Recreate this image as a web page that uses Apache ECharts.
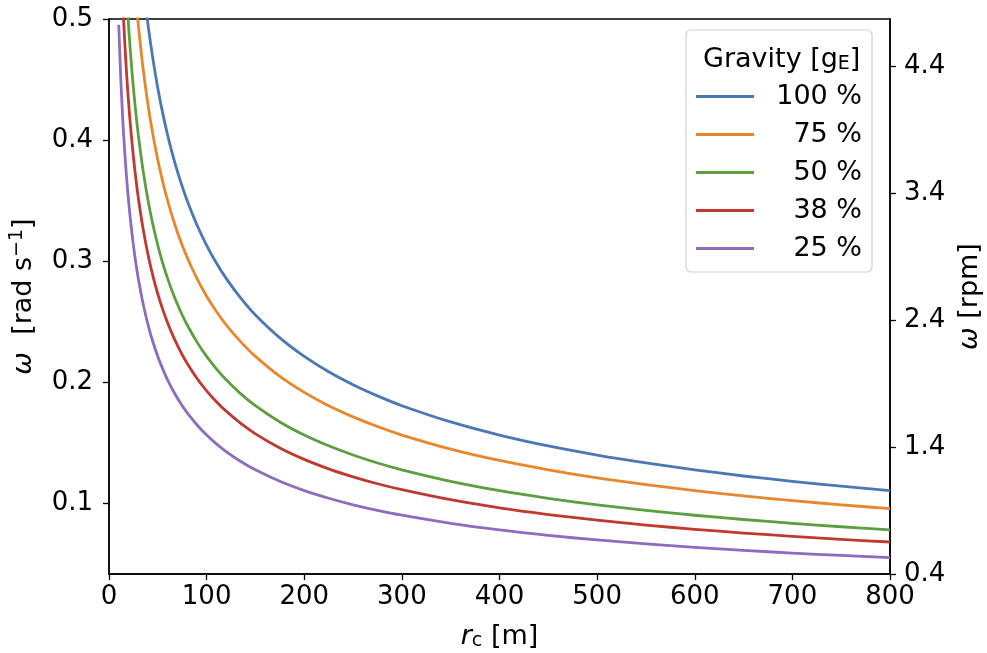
<!DOCTYPE html>
<html>
<head>
<meta charset="utf-8">
<script src="https://cdn.jsdelivr.net/npm/echarts@6/dist/echarts.min.js"></script>
<style>
html, body { margin: 0; padding: 0; background: #fff; }
#main { width: 987px; height: 653px; }
</style>
</head>
<body>
<div id="main"></div>
<script>
// radius of the habitat [m]
var radius = [10, 12, 14, 16, 18, 20, 22, 25, 28, 30, 35, 40, 45, 50, 55, 60, 65, 70, 75, 80,
	90, 100, 110, 120, 135, 150, 175, 200, 225, 250, 275, 300, 350, 400, 450, 500, 550, 600, 650, 700, 750, 800];
// angular velocity [rad/s]
var g100 = [0.9905, 0.9042, 0.8371, 0.7830, 0.7382, 0.7004, 0.6678, 0.6264, 0.5919, 0.5718, 0.5294, 0.4952, 0.4669, 0.4429, 0.4223, 0.4044, 0.3885, 0.3744, 0.3617, 0.3502,
	0.3302, 0.3132, 0.2986, 0.2859, 0.2696, 0.2557, 0.2368, 0.2215, 0.2088, 0.1981, 0.1889, 0.1808, 0.1674, 0.1566, 0.1476, 0.1401, 0.1336, 0.1279, 0.1228, 0.1184, 0.1144, 0.1107];
var g75 = [0.8578, 0.7830, 0.7249, 0.6781, 0.6393, 0.6065, 0.5783, 0.5425, 0.5126, 0.4952, 0.4585, 0.4289, 0.4044, 0.3836, 0.3658, 0.3502, 0.3364, 0.3242, 0.3132, 0.3033,
	0.2859, 0.2712, 0.2586, 0.2476, 0.2335, 0.2215, 0.2050, 0.1918, 0.1808, 0.1716, 0.1636, 0.1566, 0.1450, 0.1356, 0.1279, 0.1213, 0.1157, 0.1107, 0.1064, 0.1025, 0.0990, 0.0959];
var g50 = [0.7004, 0.6393, 0.5919, 0.5537, 0.5220, 0.4952, 0.4722, 0.4429, 0.4185, 0.4044, 0.3744, 0.3502, 0.3301, 0.3132, 0.2986, 0.2859, 0.2747, 0.2647, 0.2557, 0.2476,
	0.2335, 0.2215, 0.2112, 0.2022, 0.1906, 0.1808, 0.1674, 0.1566, 0.1477, 0.1401, 0.1335, 0.1279, 0.1184, 0.1107, 0.1044, 0.0990, 0.0944, 0.0904, 0.0869, 0.0837, 0.0809, 0.0783];
var g38 = [0.6106, 0.5574, 0.5160, 0.4827, 0.4551, 0.4317, 0.4116, 0.3862, 0.3649, 0.3525, 0.3264, 0.3053, 0.2878, 0.2730, 0.2603, 0.2493, 0.2395, 0.2308, 0.2229, 0.2159,
	0.2035, 0.1931, 0.1841, 0.1763, 0.1662, 0.1576, 0.1459, 0.1365, 0.1287, 0.1221, 0.1164, 0.1115, 0.1032, 0.0965, 0.0910, 0.0863, 0.0823, 0.0788, 0.0757, 0.0730, 0.0705, 0.0683];
var g25 = [0.4952, 0.4521, 0.4185, 0.3915, 0.3691, 0.3502, 0.3339, 0.3132, 0.2959, 0.2859, 0.2647, 0.2476, 0.2334, 0.2215, 0.2112, 0.2022, 0.1942, 0.1872, 0.1808, 0.1751,
	0.1651, 0.1566, 0.1493, 0.1430, 0.1348, 0.1279, 0.1184, 0.1107, 0.1044, 0.0990, 0.0944, 0.0904, 0.0837, 0.0783, 0.0738, 0.0700, 0.0668, 0.0639, 0.0614, 0.0592, 0.0572, 0.0554];

var seriesNames = ['100 %', '75 %', '50 %', '38 %', '25 %'];
var seriesData = [g100, g75, g50, g38, g25];
var colors = ['#4a78b5', '#e8862b', '#5b9f3e', '#c0392f', '#8d6bbf'];

var leftTicks = [0.1, 0.2, 0.3, 0.4, 0.5];
var rightTicks = [0.4, 1.4, 2.4, 3.4, 4.4];
var xMin = 0, xMax = 800;
var yMin = 0.0419, yMax = 0.5;       // rad/s
var rpmMin = 0.4, rpmMax = 4.7746;   // same range in rpm

var font = 'DejaVu Sans';
var tickSize = 26;
var textSize = 27;

function pairs(ys) {
	var out = [];
	for (var i = 0; i < radius.length; i++) {
		out.push([radius[i], ys[i]]);
	}
	return out;
}

var myChart = echarts.init(document.getElementById('main'));

var series = [];
for (var i = 0; i < seriesNames.length; i++) {
	series.push({
		name: seriesNames[i],
		type: 'line',
		yAxisIndex: 0,
		data: pairs(seriesData[i]),
		smooth: 0.3,
		symbol: 'none',
		clip: true,
		lineStyle: { width: 2.8, color: colors[i], join: 'round' },
		itemStyle: { color: colors[i] }
	});
}

var option = {
	animation: false,
	color: colors,
	textStyle: { fontFamily: font },
	grid: {
		left: 109, right: 97, top: 19, bottom: 79,
		outerBoundsMode: 'none',
		show: true, borderColor: '#000', borderWidth: 1.5,
		containLabel: false
	},
	title: {
		text: 'Gravity [g{sub|E}]',
		left: 698, top: 40, z: 10,
		textStyle: {
			fontFamily: font, fontSize: textSize, fontWeight: 'normal', color: '#000',
			rich: {
				sub: { fontFamily: font, fontSize: 19, color: '#000', padding: [10, 0, 0, 0] }
			}
		}
	},
	legend: {
		orient: 'vertical',
		left: 686, top: 30,
		padding: [53, 10, 10, 10],
		itemGap: 11,
		itemWidth: 58,
		itemHeight: 3,
		icon: 'rect',
		backgroundColor: '#fff',
		borderColor: '#d0d0d0',
		borderWidth: 1.2,
		borderRadius: 5,
		data: seriesNames,
		formatter: function (name) {
			return '{t|' + name + '}';
		},
		textStyle: {
			fontFamily: font, fontSize: textSize, color: '#000',
			rich: {
				t: { fontFamily: font, fontSize: textSize, color: '#000', width: 103, align: 'right', lineHeight: 30 }
			}
		}
	},
	xAxis: {
		type: 'value',
		min: xMin, max: xMax, interval: 100,
		name: '{i|r}{sub|c} [m]',
		nameLocation: 'middle',
		nameGap: 48,
		nameTextStyle: {
			fontFamily: font, fontSize: textSize, color: '#000',
			rich: {
				i: { fontFamily: font, fontSize: textSize, fontStyle: 'italic', color: '#000' },
				sub: { fontFamily: font, fontSize: 19, color: '#000', padding: [10, 0, 0, 0] }
			}
		},
		splitLine: { show: false },
		axisLine: { lineStyle: { color: '#000', width: 1.5 } },
		axisTick: { length: 6, lineStyle: { color: '#000', width: 1.3 } },
		axisLabel: { fontFamily: font, fontSize: tickSize, color: '#000', margin: 10 }
	},
	yAxis: [{
		type: 'value',
		position: 'left',
		min: yMin, max: yMax,
		name: '{i|ω}  [rad s{sup|−1}]',
		nameLocation: 'middle',
		nameRotate: 90,
		nameGap: 70,
		nameTextStyle: {
			fontFamily: font, fontSize: textSize, color: '#000',
			rich: {
				i: { fontFamily: font, fontSize: textSize, fontStyle: 'italic', color: '#000' },
				sup: { fontFamily: font, fontSize: 19, color: '#000', padding: [0, 0, 12, 0] }
			}
		},
		splitLine: { show: false },
		axisLine: { show: true, lineStyle: { color: '#000', width: 1.5 } },
		axisTick: { show: true, length: 6, customValues: leftTicks, lineStyle: { color: '#000', width: 1.3 } },
		axisLabel: {
			fontFamily: font, fontSize: tickSize, color: '#000', margin: 16,
			customValues: leftTicks,
			formatter: function (v) { return v.toFixed(1); }
		}
	}, {
		type: 'value',
		position: 'right',
		min: rpmMin, max: rpmMax,
		name: '{i|ω} [rpm]',
		nameLocation: 'middle',
		nameRotate: 90,
		nameGap: 66,
		nameTextStyle: {
			fontFamily: font, fontSize: textSize, color: '#000',
			rich: {
				i: { fontFamily: font, fontSize: textSize, fontStyle: 'italic', color: '#000' }
			}
		},
		splitLine: { show: false },
		axisLine: { show: true, lineStyle: { color: '#000', width: 1.5 } },
		axisTick: { show: true, length: 6, customValues: rightTicks, lineStyle: { color: '#000', width: 1.3 } },
		axisLabel: {
			fontFamily: font, fontSize: tickSize, color: '#000', margin: 14,
			customValues: rightTicks,
			formatter: function (v) { return v.toFixed(1); }
		}
	}],
	series: series
};

myChart.setOption(option);
</script>
</body>
</html>
